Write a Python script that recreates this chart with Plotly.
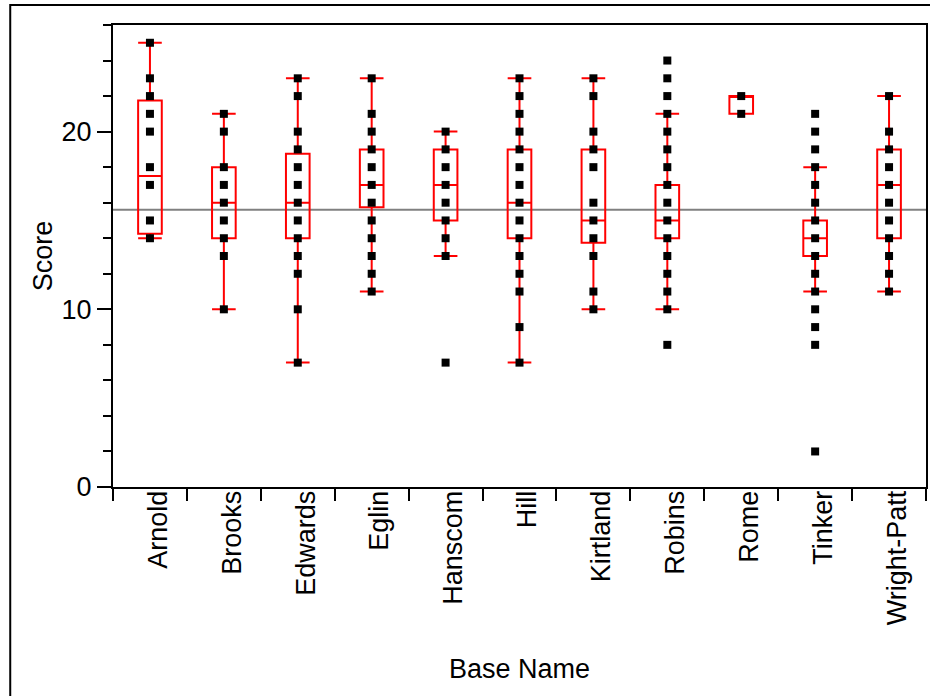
import plotly.graph_objects as go

# ---- data ----
bases = ["Arnold", "Brooks", "Edwards", "Eglin", "Hanscom", "Hill",
         "Kirtland", "Robins", "Rome", "Tinker", "Wright-Patt"]

arnold = [25, 23, 22, 21, 20, 18, 17, 15, 14]
brooks = [21, 20, 18, 17, 16, 15, 14, 13, 10]
edwards = [23, 22, 20, 19, 18, 17, 16, 15, 14, 13, 12, 10, 7]
eglin = [23, 21, 20, 19, 18, 17, 16, 15, 14, 13, 12, 11]
hanscom = [20, 19, 18, 17, 16, 15, 14, 13, 7]
hill = [23, 22, 21, 20, 19, 18, 17, 16, 15, 14, 13, 12, 11, 9, 7]
kirtland = [23, 22, 20, 19, 18, 16, 15, 14, 13, 11, 10]
robins = [24, 23, 22, 21, 20, 19, 18, 17, 16, 15, 14, 13, 12, 11, 10, 8]
rome = [22, 21]
tinker = [21, 20, 19, 18, 17, 16, 15, 14, 13, 12, 11, 10, 9, 8, 2]
wright_patt = [22, 20, 19, 18, 17, 16, 15, 14, 13, 12, 11]

q1 = [14.25, 14, 14, 15.75, 15, 14, 13.75, 14, 21, 13, 14]
median = [17.5, 16, 16, 17, 17, 16, 15, 15, 22, 14, 17]
q3 = [21.75, 18, 18.75, 19, 19, 19, 19, 17, 22, 15, 19]
lower_whisker = [14, 10, 7, 11, 13, 7, 10, 10, 21, 11, 11]
upper_whisker = [25, 21, 23, 23, 20, 23, 23, 21, 22, 18, 22]

grand_mean = 15.6

y_ticks = [0, 10, 20]

groups = [arnold, brooks, edwards, eglin, hanscom, hill,
          kirtland, robins, rome, tinker, wright_patt]

pts_x, pts_y = [], []
for name, vals in zip(bases, groups):
    for v in vals:
        pts_x.append(name)
        pts_y.append(v)

FONT = "Liberation Sans, Arial, Helvetica, sans-serif"
FS = 27

fig = go.Figure()
fig.add_trace(go.Box(
    x=bases, q1=q1, median=median, q3=q3,
    lowerfence=lower_whisker, upperfence=upper_whisker,
    boxpoints=False, width=0.32, whiskerwidth=1,
    line=dict(color="#ff0000", width=2),
    fillcolor="rgba(0,0,0,0)", showlegend=False, hoverinfo="skip",
))
fig.add_trace(go.Scatter(
    x=pts_x, y=pts_y, mode="markers",
    marker=dict(symbol="square", size=8, color="black"),
    showlegend=False,
))

fig.add_shape(type="line", xref="paper", x0=0, x1=1, yref="y",
              y0=grand_mean, y1=grand_mean,
              line=dict(color="#808080", width=2), layer="below")
# outer frame
fig.add_shape(type="rect", xref="paper", yref="paper",
              x0=-0.1264, x1=1.2, y0=-0.8, y1=1.0433,
              line=dict(color="black", width=2), layer="below")

fig.update_layout(
    width=930, height=696,
    margin=dict(l=113, r=2, t=25, b=209),
    paper_bgcolor="white", plot_bgcolor="white",
    font=dict(family=FONT, size=FS, color="black"),
)
fig.update_xaxes(
    type="category", categoryorder="array", categoryarray=bases,
    range=[-0.5, 10.5],
    showline=True, mirror=True, linecolor="black", linewidth=2,
    ticks="outside", tickson="boundaries", ticklen=12, tickwidth=2,
    tickcolor="black", tickangle=-90, showgrid=False,
    ticklabelshift=8, ticklabelstandoff=-9,
    tickfont=dict(family=FONT, size=FS),
    title=dict(text="Base Name", font=dict(family=FONT, size=FS), standoff=35),
)
fig.update_yaxes(
    range=[0, 26], tickvals=y_ticks,
    showline=True, mirror=True, linecolor="black", linewidth=2,
    ticks="outside", ticklen=14, tickwidth=2, tickcolor="black",
    minor=dict(dtick=2, ticklen=8, tickwidth=2, ticks="outside", tickcolor="black", showgrid=False),
    showgrid=False, zeroline=False,
    tickfont=dict(family=FONT, size=FS),
    title=dict(text="Score", font=dict(family=FONT, size=FS), standoff=1),
)

fig.write_html(
    "out.html",
    config={"displayModeBar": False},
    post_script="document.body.style.margin='0';document.body.style.overflow='hidden';",
)
